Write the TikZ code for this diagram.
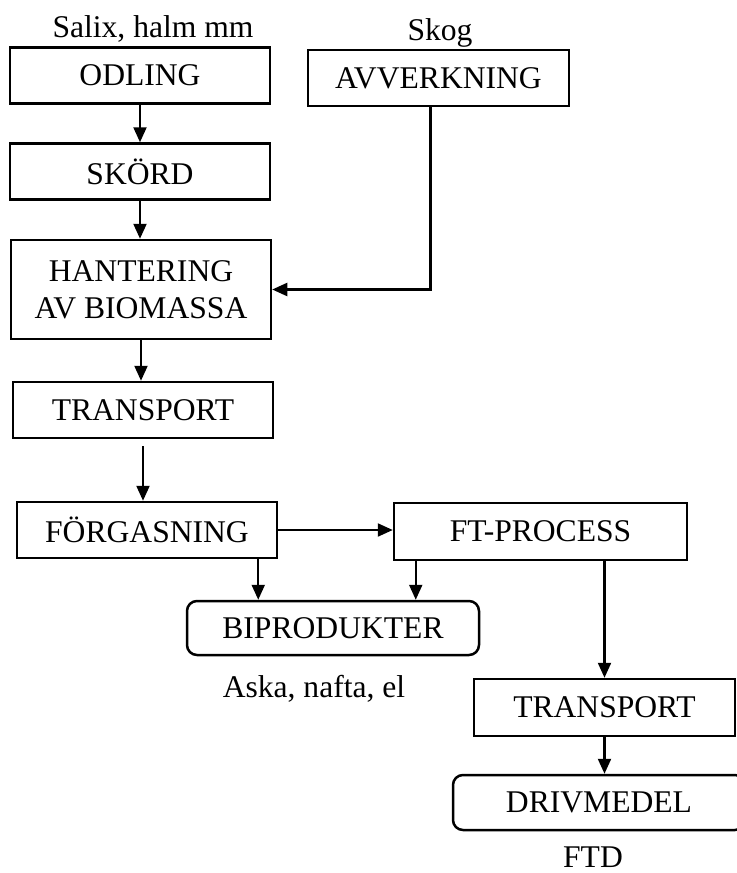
\documentclass[tikz,border=0pt]{standalone}
\usepackage{fontspec}
\setmainfont{Liberation Serif}
\usetikzlibrary{arrows.meta}
\tikzset{
  box/.style={draw,line width=1.25pt,inner sep=0pt,minimum width=130pt,minimum height=28pt,align=center,font=\fontsize{15.8}{18.5}\selectfont},
  rbox/.style={box,rounded corners=5pt},
  lbl/.style={anchor=base,inner sep=0pt,font=\fontsize{15.8}{18.5}\selectfont},
  arr/.style={line width=1.1pt,-{Triangle[length=7.5pt,width=6.5pt]}},
}
\begin{document}
\begin{tikzpicture}[x=0.5pt,y=-0.5pt]
\useasboundingbox (0,0) rectangle (736,873);
\node[box] (odling) at (140,75.5) {ODLING};
\node[box] (skord) at (140,171.5) {SKÖRD};
\node[box,minimum height=49.5pt] (hant) at (141,289.5) {HANTERING\\AV BIOMASSA};
\node[box] (transpA) at (143,410) {TRANSPORT};
\node[box] (forg) at (147,530) {FÖRGASNING};
\node[box,minimum width=130.5pt] (avverk) at (438.5,78) {AVVERKNING};
\node[box,minimum width=146.5pt,minimum height=28.5pt] (ftproc) at (540.5,531.5) {FT-PROCESS};
\node[rbox,minimum width=146pt,minimum height=27pt] (bipro) at (333,628) {BIPRODUKTER};
\node[box,minimum width=130.5pt,minimum height=28.5pt] (transpB) at (604.5,707.5) {TRANSPORT};
\node[rbox,minimum width=146pt,minimum height=27.5pt] (drivm) at (599,802.5) {DRIVMEDEL};

\node[lbl] (salix) at (153,37) {Salix, halm mm};
\node[lbl] (skog) at (440,40) {Skog};
\node[lbl] (aska) at (314,697) {Aska, nafta, el};
\node[lbl] (ftd) at (593,867) {FTD};

\draw[arr] (odling.south) -- (odling.south |- skord.north);
\draw[arr] (skord.south) -- (skord.south |- hant.north);
\draw[arr] (hant.south) -- (hant.south |- transpA.north);
\draw[arr,shorten <=3.5pt] (transpA.south) -- (transpA.south |- forg.north);
\draw[arr] ([xshift=-4pt]avverk.south) |- (hant.east);
\draw[arr] (forg.east) -- (forg.east -| ftproc.west);
\draw[arr] ([xshift=-10pt]forg.south east) -- ([xshift=-10pt]forg.south east |- bipro.north);
\draw[arr] ([xshift=11.5pt]ftproc.south west) -- ([xshift=11.5pt]ftproc.south west |- bipro.north);
\draw[arr] (ftproc.south -| transpB.north) -- (transpB.north);
\draw[arr] (transpB.south) -- (transpB.south |- drivm.north);
\end{tikzpicture}
\end{document}
